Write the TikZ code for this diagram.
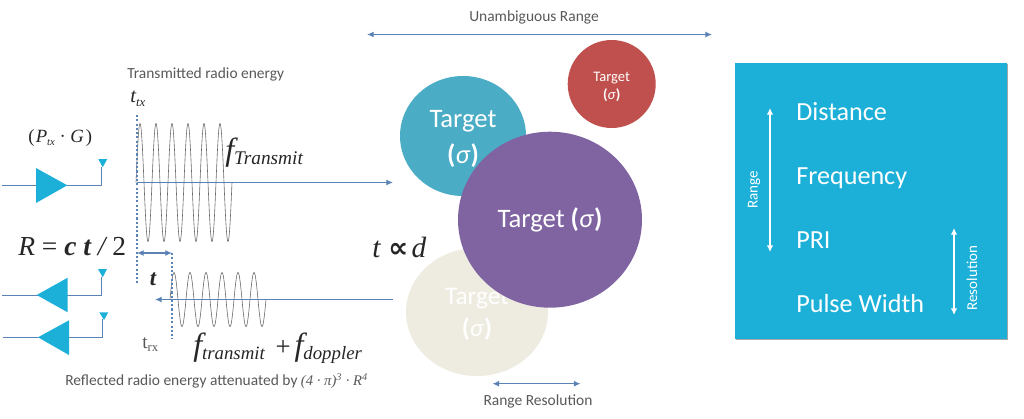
\documentclass[tikz,border=0pt]{standalone}
\usepackage{fontspec}
\setmainfont{Carlito}
\newfontfamily\tms{Liberation Serif}
\newfontfamily\djv{DejaVu Sans}
\usetikzlibrary{shapes.geometric,arrows.meta,shadows}
\definecolor{cyanbox}{HTML}{1CB0D8}
\definecolor{linkblue}{HTML}{5B82B5}
\definecolor{labelgray}{HTML}{595959}
\definecolor{wavegray}{HTML}{6A6A6A}
\definecolor{formula}{HTML}{262626}
\definecolor{tred}{RGB}{192,80,77}
\definecolor{tteal}{RGB}{75,172,198}
\definecolor{tbeige}{RGB}{238,236,225}
\definecolor{tpurple}{RGB}{128,100,162}
\newcommand{\fs}[2]{\fontsize{#1}{#2}\selectfont}
\newcommand{\tsub}[3]{{\raisebox{-#1}{\fontsize{#2}{#2}\selectfont #3}}}
\tikzset{
  lbl/.style={inner sep=0pt,text=labelgray,font=\fs{11.6}{13}},
  math/.style={inner sep=0pt,text=formula,font=\tms\itshape},
  panel/.style={inner sep=0pt,text=white,anchor=base west,font=\fs{19.6}{23}},
  small/.style={inner sep=0pt,text=white,rotate=90,font=\fs{11.3}{13}},
  target/.style={ellipse,inner sep=0pt,text=white,align=center},
  conn/.style={draw=linkblue,line width=0.9pt,-{Latex[length=5pt,width=4.5pt]}},
  both/.style={draw=linkblue,line width=0.9pt,{Latex[length=5pt,width=4.5pt]}-{Latex[length=5pt,width=4.5pt]}},
  wht/.style={draw=white,line width=1.1pt,{Latex[length=5pt,width=5pt]}-{Latex[length=5pt,width=5pt]}},
  plain/.style={draw=linkblue,line width=0.8pt},
  dots/.style={draw=linkblue,line width=0.9pt,dash pattern=on 1.6pt off 1.6pt},
  wavel/.style={draw=wavegray,line width=0.45pt},
  amp/.style={draw=none,fill=cyanbox},
}
\begin{document}
\begin{tikzpicture}[x=0.75pt,y=-0.75pt]
\useasboundingbox (0,0) rectangle (1024,418);
\fill[white] (0,0) rectangle (1024,418);

% targets
\node[target,fill=tred,minimum width=66pt,minimum height=66pt,font=\fs{10.9}{14}] (nred) at (611.7,84) {\rule{0pt}{11.5pt}Target\\\textbf{(}\textit{σ}\textbf{)}};
\node[target,fill=tteal,minimum width=94.5pt,minimum height=90pt,font=\fs{20}{26.5}] (nteal) at (463,136) {\rule{0pt}{17.5pt}Target\\\textbf{(}\textit{σ}\textbf{)}};
\node[target,fill=tbeige,minimum width=106.5pt,minimum height=96pt,font=\fs{19}{24},text=white] (nbeige) at (477,312) {\rule{0pt}{15pt}Target\\\textbf{(}\textit{σ}\textbf{)}};
\node[target,fill=tpurple,minimum width=138pt,minimum height=132pt,font=\fs{20}{23}] (npurple) at (550,219.7) {Target \textbf{(}\textit{σ}\textbf{)}};

% panel
\node[draw=none,fill=cyanbox,minimum width=204pt,minimum height=207pt,inner sep=0pt,drop shadow={shadow xshift=0.8pt,shadow yshift=-0.8pt,opacity=.35,fill=black}] (pbox) at (871.2,201) {};
\node[panel] (pdist) at (796,120.5) {Distance};
\node[panel] (pfreq) at (796,184) {Frequency};
\node[panel] (ppri) at (796,248.2) {PRI};
\node[panel] (ppw) at (796,312) {Pulse Width};
\node[small] (prange) at (754,190) {Range};
\node[small] (pres) at (972,278) {Resolution};
\coordinate (ra) at (770,108); \coordinate (rb) at (770,252);
\coordinate (sa) at (954,228); \coordinate (sb) at (954,315);
\draw[wht] (ra) -- (rb);
\draw[wht] (sa) -- (sb);

% top / bottom ranges
\node[lbl] (lunamb) at (534,17.5) {Unambiguous Range};
\coordinate (ua) at (367,34.5); \coordinate (ub) at (712,34.5);
\draw[both] (ua) -- (ub);
\node[lbl] (lres) at (538,401.5) {Range Resolution};
\coordinate (rra) at (492.5,383.7); \coordinate (rrb) at (580.5,383.7);
\draw[both] (rra) -- (rrb);

% waves
\draw[wavel] plot[domain=136:232,samples=240,smooth] (\x,{182.5-59*sin(22.5*(\x-136))});
\draw[wavel] plot[domain=170:266,samples=240,smooth] (\x,{299.5-27*sin(22.5*(\x-170))});

% time axes
\coordinate (txa) at (137,182.5); \coordinate (txb) at (393,182.5);
\draw[conn] (txa) -- (txb);
\coordinate (rxa) at (393,299.5); \coordinate (rxb) at (155,299.5);
\draw[conn] (rxa) -- (rxb);
\coordinate (d1a) at (137,115); \coordinate (d1b) at (137,283);
\coordinate (d2a) at (172,253); \coordinate (d2b) at (172,339);
\draw[dots] (d1a) -- (d1b);
\draw[dots] (d2a) -- (d2b);
\coordinate (ta) at (137,253); \coordinate (tb) at (172,253);
\draw[both] (ta) -- (tb);

% amplifiers
\coordinate (a1l) at (2,185.3); \coordinate (a1r) at (101.5,185.3); \coordinate (a1t) at (101.5,167);
\draw[plain] (a1l) -- (a1r) -- (a1t);
\fill[amp] (36,168) -- (36,203) -- (67.3,185.3) -- cycle;
\fill[amp] (98.3,159) -- (107.3,159) -- (102.7,167.3) -- cycle;
\coordinate (a2l) at (2,295.4); \coordinate (a2r) at (101.5,295.4); \coordinate (a2t) at (101.5,277);
\draw[plain] (a2l) -- (a2r) -- (a2t);
\fill[amp] (67.7,277.7) -- (67.7,312.3) -- (36.7,295) -- cycle;
\fill[amp] (98,269) -- (107,269) -- (102.7,277.3) -- cycle;
\coordinate (a3l) at (3,337.3); \coordinate (a3r) at (102.5,337.3); \coordinate (a3t) at (102.5,319);
\draw[plain] (a3l) -- (a3r) -- (a3t);
\fill[amp] (69,320.3) -- (69,355) -- (38,337.3) -- cycle;
\fill[amp] (99.3,312.3) -- (108.3,312.3) -- (104,320) -- cycle;

% labels
\node[lbl,anchor=west] (ltx) at (127,74) {Transmitted radio energy};
\node[math,anchor=west,font=\tms\itshape\fs{15.5}{18}] (ttx) at (130,99) {t\tsub{3pt}{9.5}{tx}};
\node[math,anchor=west,font=\tms\itshape\fs{14}{17}] (pg) at (28,138) {\upshape(\itshape\hspace{1pt}P\tsub{2pt}{8}{tx}\upshape\hspace{3.5pt}·\hspace{3.5pt}\itshape G\upshape\hspace{1.5pt})};
\node[math,anchor=base west,font=\tms\itshape\fs{24}{30}] (ft) at (225,160) {f\tsub{3.5pt}{14.5}{Transmit}};
\node[math,anchor=west,font=\tms\itshape\fs{20.6}{26}] (req) at (18,247) {R \upshape= \bfseries\itshape c t \mdseries\itshape/ \upshape2};
\node[math,anchor=west,font=\tms\itshape\fs{22}{24}] (tprop) at (372,247) {t\hspace{6pt}{\djv\upshape\bfseries\fs{21}{20}∝}\hspace{2.5pt}d};
\node[math,font=\tms\itshape\bfseries\fs{17}{20}] (tlab) at (153,279) {t};
\node[inner sep=0pt,text=labelgray,anchor=west,font=\tms\fs{14.5}{17}] (trx) at (142,344.5) {t\tsub{2pt}{9.5}{rx}};
\node[math,anchor=base west,font=\tms\itshape\fs{24}{30}] (ff) at (193,355) {f\tsub{3.5pt}{14.1}{transmit}\hspace{8pt}{\upshape\fs{20}{26}+}\hspace{3pt}f\tsub{3.5pt}{14.1}{doppler}};
\node[lbl,anchor=west] (lrefl) at (65,381) {Reflected radio energy attenuated by {\tms\itshape\fs{11}{13}(4 · π)\textsuperscript{3} · R\textsuperscript{4}}};
\end{tikzpicture}
\end{document}
